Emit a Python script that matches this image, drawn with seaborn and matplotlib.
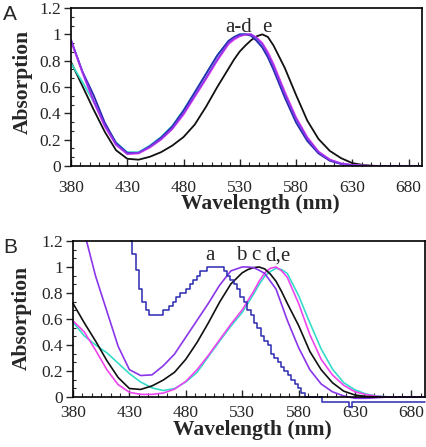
import numpy as np
import pandas as pd
import seaborn as sns
import matplotlib
matplotlib.use("Agg")
import matplotlib.pyplot as plt
from matplotlib.ticker import AutoMinorLocator, FuncFormatter

# wavelength grid (nm) shared by most curves
wl = list(range(380, 700, 10))

# Panel A: normalised spectra, a-d nearly overlap, e red-shifted
a_blue = [0.95, 0.72, 0.54, 0.33, 0.175, 0.10, 0.10, 0.15, 0.215, 0.30, 0.42, 0.56, 0.70, 0.84, 0.95, 1.0,
          0.99, 0.90, 0.73, 0.52, 0.33, 0.19, 0.095, 0.04, 0.015, 0.005, 0.001, 0, 0, 0, 0, 0]
a_cyan = [0.78, 0.64, 0.49, 0.32, 0.18, 0.105, 0.105, 0.155, 0.22, 0.305, 0.425, 0.56, 0.70, 0.84, 0.95, 1.0,
          0.99, 0.905, 0.74, 0.53, 0.345, 0.20, 0.10, 0.045, 0.018, 0.007, 0.002, 0, 0, 0, 0, 0]
a_magenta = [0.95, 0.71, 0.49, 0.30, 0.16, 0.09, 0.095, 0.14, 0.20, 0.28, 0.39, 0.525, 0.66, 0.80, 0.925, 0.985,
             1.0, 0.935, 0.775, 0.565, 0.37, 0.22, 0.11, 0.05, 0.02, 0.008, 0.003, 0.001, 0, 0, 0, 0]
a_purple = [0.96, 0.72, 0.50, 0.31, 0.165, 0.095, 0.10, 0.145, 0.205, 0.285, 0.40, 0.535, 0.67, 0.81, 0.935, 0.99,
            1.0, 0.925, 0.76, 0.55, 0.36, 0.21, 0.105, 0.046, 0.018, 0.007, 0.002, 0, 0, 0, 0, 0]
a_black = [0.79, 0.61, 0.43, 0.26, 0.12, 0.055, 0.048, 0.07, 0.105, 0.155, 0.22, 0.315, 0.45, 0.60, 0.74, 0.87,
           0.955, 1.0, 0.915, 0.745, 0.54, 0.345, 0.205, 0.115, 0.06, 0.022, 0.007, 0.001, 0, 0, 0, 0]
# extra readings around the maxima
wl_a_pk = [525, 535, 545, 555]
a_blue_pk = [0.98, 1.0, 0.95, 0.825]
a_cyan_pk = [0.98, 1.0, 0.955, 0.83]
a_magenta_pk = [0.96, 0.998, 0.975, 0.865]
a_purple_pk = [0.97, 1.0, 0.97, 0.85]
a_black_pk = [0.81, 0.915, 0.985, 0.98]

# Panel B
b_black = [0.72, 0.57, 0.43, 0.28, 0.15, 0.065, 0.058, 0.085, 0.13, 0.19, 0.29, 0.42, 0.57, 0.73, 0.87, 0.955,
           0.995, 0.985, 0.89, 0.72, 0.55, 0.35, 0.21, 0.11, 0.045, 0.015, 0.004, 0, 0, 0, 0, 0]
b_magenta = [0.585, 0.50, 0.36, 0.21, 0.095, 0.036, 0.02, 0.02, 0.03, 0.06, 0.12, 0.21, 0.32, 0.44, 0.56, 0.67,
             0.81, 0.955, 1.0, 0.92, 0.72, 0.48, 0.29, 0.17, 0.09, 0.04, 0.018, 0.005, 0, 0, 0, 0]
b_cyan = [0.575, 0.47, 0.40, 0.34, 0.26, 0.18, 0.115, 0.07, 0.05, 0.065, 0.115, 0.19, 0.31, 0.43, 0.545, 0.65,
          0.79, 0.93, 0.99, 0.95, 0.78, 0.57, 0.37, 0.215, 0.11, 0.055, 0.022, 0.007, 0, 0, 0, 0]
wl_b_purple = [392] + list(range(400, 700, 10))
b_purple = [1.2, 0.93, 0.66, 0.39, 0.21, 0.165, 0.17, 0.24, 0.33, 0.46, 0.59, 0.72, 0.86, 0.97, 1.0, 0.995,
            0.95, 0.83, 0.59, 0.38, 0.21, 0.10, 0.04, 0.008, -0.01, -0.01, -0.005, 0, 0, 0, 0]
wl_b_pk = [535, 545, 555, 565]
b_purple_pk = [1.0, 0.975, 0.89, 0.71]
b_black_pk = [0.98, 1.0, 0.945, 0.81]
b_magenta_pk = [0.74, 0.89, 0.99, 0.97]
b_cyan_pk = [0.72, 0.865, 0.965, 0.98]
# low resolution spectrum a: quantised values every 3 nm
wl_b_blue = list(range(431, 693, 3))
b_blue = [1.2, 1.1, 0.98, 0.83, 0.733, 0.667, 0.633, 0.633, 0.633, 0.633, 0.667, 0.667, 0.70, 0.733, 0.767,
          0.80, 0.80, 0.833, 0.867, 0.90, 0.933, 0.967, 0.967, 1.0, 1.0, 1.0, 1.0, 1.0, 0.967, 0.933, 0.90,
          0.867, 0.833, 0.767, 0.733, 0.667, 0.633, 0.567, 0.533, 0.467, 0.433, 0.40, 0.333, 0.30, 0.267,
          0.233, 0.20, 0.167, 0.133, 0.10, 0.067, 0.033, 0, 0, 0, 0, 0] + [-0.035] * 8 + [-0.075] + [-0.035] * 22

colors = {"blue": "#2a2ab0", "cyan": "#35dcc8", "magenta": "#ee44ee",
          "purple": "#8a35ea", "black": "#111111"}


def long_df(curves):
    frames = []
    for name, (x, y) in curves.items():
        frames.append(pd.DataFrame({"wl": x, "abs": y, "curve": name}))
    return pd.concat(frames, ignore_index=True)


df_a = long_df({"black": (wl + wl_a_pk, a_black + a_black_pk),
                "cyan": (wl + wl_a_pk, a_cyan + a_cyan_pk),
                "blue": (wl + wl_a_pk, a_blue + a_blue_pk),
                "magenta": (wl + wl_a_pk, a_magenta + a_magenta_pk),
                "purple": (wl + wl_a_pk, a_purple + a_purple_pk)})
df_b = long_df({"cyan": (wl + wl_b_pk, b_cyan + b_cyan_pk),
                "magenta": (wl + wl_b_pk, b_magenta + b_magenta_pk),
                "black": (wl + wl_b_pk, b_black + b_black_pk),
                "purple": (wl_b_purple + wl_b_pk, b_purple + b_purple_pk)})
df_b_step = long_df({"blue": (wl_b_blue, b_blue)})

sns.set_style("ticks")
plt.rcParams["font.family"] = ["Liberation Serif", "DejaVu Serif"]
plt.rcParams["axes.linewidth"] = 1.2

fig = plt.figure(figsize=(4.26, 4.47), dpi=100)
ax_a = fig.add_axes([0.1667, 0.6286, 0.824, 0.3535])
ax_b = fig.add_axes([0.1714, 0.1119, 0.826, 0.349])

sns.lineplot(data=df_a, x="wl", y="abs", hue="curve", palette=colors,
             hue_order=["black", "cyan", "blue", "magenta", "purple"],
             errorbar=None, legend=False, linewidth=1.3, ax=ax_a)
sns.lineplot(data=df_b, x="wl", y="abs", hue="curve", palette=colors,
             hue_order=["cyan", "magenta", "black", "purple"],
             errorbar=None, legend=False, linewidth=1.2, clip_on=False, ax=ax_b)
sns.lineplot(data=df_b_step, x="wl", y="abs", hue="curve", palette=colors,
             errorbar=None, legend=False, linewidth=1.1, drawstyle="steps-mid",
             clip_on=False, ax=ax_b)

fmt = FuncFormatter(lambda v, p: f"{v:g}")
for ax, xpad in [(ax_a, 10), (ax_b, 6)]:
    ax.set_xlim(380, 692)
    ax.set_ylim(0, 1.2)
    ax.set_xticks(range(380, 700, 50))
    ax.set_yticks(np.arange(0, 1.21, 0.2))
    ax.yaxis.set_major_formatter(fmt)
    ax.xaxis.set_minor_locator(AutoMinorLocator(6))
    ax.yaxis.set_minor_locator(AutoMinorLocator(3))
    ax.tick_params(axis="x", which="major", direction="in", length=5, width=1, pad=xpad, labelsize=12.5)
    ax.tick_params(axis="x", which="minor", direction="in", length=3, width=0.8)
    ax.tick_params(axis="y", which="major", direction="out", length=5, width=1, pad=2, labelsize=12.5)
    ax.tick_params(axis="y", which="minor", direction="in", length=2, width=0.8)
    ax.set_xlabel("Wavelength (nm)", fontsize=15.5, fontweight="bold")
    ax.set_ylabel("Absorption", fontsize=15.5, fontweight="bold")
    for s in ax.spines.values():
        s.set_color("black")

ax_a.xaxis.set_label_coords(0.54, -0.18)
ax_a.yaxis.set_label_coords(-0.108, 0.53)
ax_b.xaxis.set_label_coords(0.51, -0.147)
ax_b.yaxis.set_label_coords(-0.116, 0.506)

# curve labels
ax_a.text(529, 1.02, "a-d", fontsize=15, ha="center", va="baseline")
ax_a.text(554, 1.02, "e", fontsize=15, ha="center", va="baseline")
ax_b.text(501, 1.05, "a", fontsize=15, ha="center", va="baseline")
ax_b.text(529, 1.05, "b", fontsize=15, ha="center", va="baseline")
ax_b.text(542, 1.05, "c", fontsize=15, ha="center", va="baseline")
ax_b.text(562, 1.05, "d,e", fontsize=15, ha="center", va="baseline")

fig.text(3 / 426, 1 - 20 / 447, "A", fontsize=15, family="Liberation Sans", va="baseline")
fig.text(3 / 426, 1 - 253 / 447, "B", fontsize=15, family="Liberation Sans", va="baseline")

fig.savefig("out.png", dpi=100)
